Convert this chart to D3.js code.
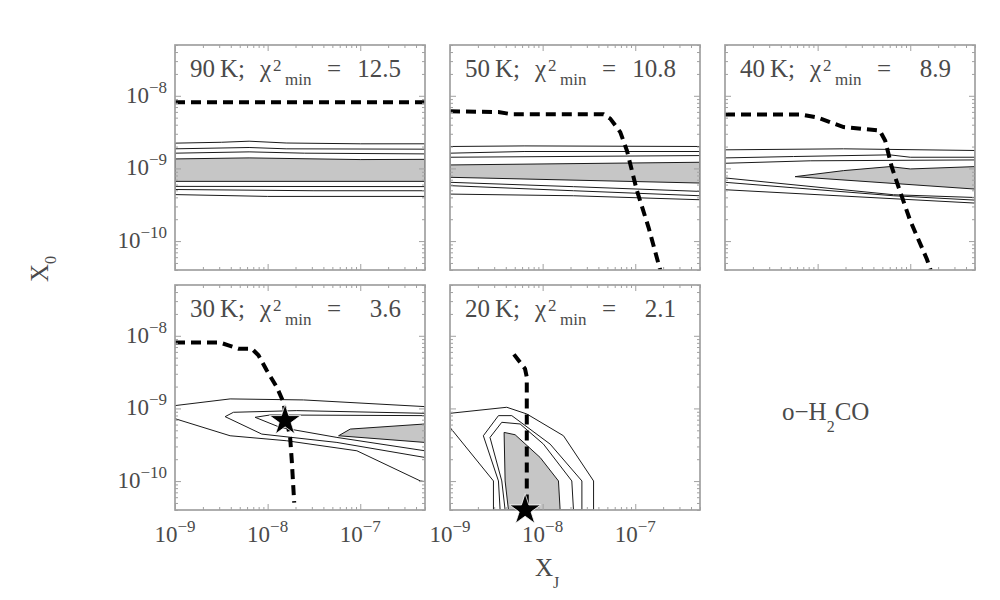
<!DOCTYPE html>
<html><head><meta charset="utf-8">
<script src="https://cdn.jsdelivr.net/npm/d3@7"></script>
<style>body{margin:0;background:#fff}</style>
</head><body>
<svg id="c" width="1000" height="600"></svg>
<script>
// ---------------- data ----------------
const temps = [90, 50, 40, 30, 20];
const chi2min = ["12.5", "10.8", "8.9", "3.6", "2.1"];
const xTickExps = [-9, -8, -7];
const yTickExps = [-10, -9, -8];
const xDomain = [1e-9, 5e-7];
const yDomain = [4e-11, 5e-8];

// points are [log10 X_J, log10 X_0]
const dash90 = [[-9,-8.09],[-6.301,-8.09]];
const dash50 = [[-9,-8.214],[-8.478,-8.224],[-8.333,-8.255],[-7.343,-8.255],[-7.270,-8.315],[-7.162,-8.500],[-7.090,-8.753],[-6.982,-9.306],[-6.856,-9.814],[-6.730,-10.40]];
const dash40 = [[-9,-8.256],[-8.19,-8.256],[-8.0,-8.30],[-7.72,-8.43],[-7.33,-8.477],[-7.27,-8.62],[-7.2,-8.98],[-7.12,-9.28],[-7.0,-9.72],[-6.82,-10.25],[-6.78,-10.40]];
const dash30 = [[-9,-8.094],[-8.513,-8.094],[-8.423,-8.131],[-8.315,-8.177],[-8.171,-8.177],[-8.099,-8.269],[-8.009,-8.477],[-7.901,-8.707],[-7.829,-8.915],[-7.811,-9.053],[-7.757,-9.399],[-7.739,-9.722],[-7.713,-10.298]];
const dash20 = [[-8.31,-8.256],[-8.19,-8.454],[-8.171,-8.57],[-8.171,-10.40]];

const cont90 = [
 [[-9,-8.652],[-8.5,-8.640],[-8.2,-8.625],[-7.8,-8.650],[-7.0,-8.661],[-6.301,-8.661],[-6.301,-9.385],[-8.0,-9.385],[-9,-9.36]],
 [[-9,-8.730],[-8.2,-8.712],[-7.8,-8.730],[-6.301,-8.735],[-6.301,-9.307],[-7.5,-9.307],[-9,-9.29]],
 [[-9,-8.790],[-8.2,-8.772],[-7.6,-8.790],[-6.301,-8.800],[-6.301,-9.250],[-9,-9.247]]
];
const fill90 = [[-9,-8.869],[-8.2,-8.855],[-7.0,-8.878],[-6.301,-8.875],[-6.301,-9.178],[-9,-9.178]];

const cont50 = [
 [[-9,-8.698],[-8.2,-8.690],[-6.301,-8.698],[-6.301,-9.431],[-7.667,-9.376],[-9,-9.353]],
 [[-9,-8.790],[-8.2,-8.767],[-6.301,-8.767],[-6.301,-9.376],[-7.667,-9.307],[-9,-9.237]],
 [[-9,-8.846],[-6.301,-8.823],[-6.301,-9.316],[-7.667,-9.251],[-9,-9.191]]
];
const fill50 = [[-9,-8.952],[-6.301,-8.915],[-6.301,-9.201],[-9,-9.122]];

const cont40 = [
 [[-9,-8.744],[-7.72,-8.730],[-6.301,-8.753],[-6.301,-9.477],[-9,-9.293]],
 [[-9,-8.855],[-8.26,-8.836],[-7.22,-8.813],[-7.0,-8.846],[-6.301,-8.846],[-6.301,-9.436],[-7.18,-9.376],[-9,-9.191]],
 [[-9,-8.929],[-8.08,-8.895],[-6.301,-8.883],[-6.301,-9.40],[-7.18,-9.362],[-9,-9.131]]
];
const fill40 = [[-8.243,-9.113],[-7.72,-9.030],[-7.22,-8.975],[-7.0,-9.007],[-6.301,-8.975],[-6.301,-9.284]];

const cont30 = [
 [[-9,-8.961],[-8.405,-8.869],[-7.613,-8.883],[-6.301,-8.975],[-6.301,-10.007],[-6.351,-9.998],[-7.036,-9.583],[-7.793,-9.445],[-8.405,-9.376],[-9,-9.141]],
 [[-8.459,-9.113],[-8.369,-9.053],[-7.685,-9.030],[-6.301,-9.067],[-6.301,-9.675],[-7.252,-9.468],[-8.063,-9.353]],
 [[-8.135,-9.122],[-7.973,-9.090],[-6.301,-9.099],[-6.301,-9.583],[-7.252,-9.399],[-7.865,-9.261]]
];
const fill30 = [[-7.234,-9.376],[-7.108,-9.284],[-6.301,-9.214],[-6.301,-9.468]];

const cont20 = [
 [[-8.531,-10.398],[-8.531,-9.998],[-9,-9.261],[-9,-9.067],[-8.387,-8.984],[-8.171,-9.076],[-7.775,-9.376],[-7.450,-9.998],[-7.450,-10.398]],
 [[-8.459,-10.398],[-8.477,-9.998],[-8.640,-9.376],[-8.477,-9.099],[-8.333,-9.099],[-7.919,-9.491],[-7.576,-9.998],[-7.576,-10.398]],
 [[-8.405,-10.398],[-8.441,-9.998],[-8.568,-9.399],[-8.441,-9.191],[-8.243,-9.214],[-7.991,-9.491],[-7.685,-9.998],[-7.667,-10.398]]
];
const fill20 = [[-8.369,-10.398],[-8.405,-9.998],[-8.416,-9.330],[-8.297,-9.362],[-8.027,-9.675],[-7.829,-9.998],[-7.811,-10.398]];

const star30 = [-7.811, -9.168];
const star20 = [-8.189, -10.398];

// ---------------- drawing ----------------
const FONT = "'Liberation Serif', 'DejaVu Serif', serif";
const TXT = "#4a4a4a";
const FRAME = "#a0a0a0";
const W = 250, H = 225;
const colX = [175, 450, 725], rowY = [45, 285];

const svg = d3.select("#c");
svg.append("defs").append("clipPath").attr("id","clip")
  .append("rect").attr("width",W).attr("height",H);

const x = d3.scaleLog().domain(xDomain).range([0, W]);
const y = d3.scaleLog().domain(yDomain).range([H, 0]);
const line = d3.line().x(d => x(Math.pow(10, d[0]))).y(d => y(Math.pow(10, d[1])));
const ring = d3.line().x(d => x(Math.pow(10, d[0]))).y(d => y(Math.pow(10, d[1]))).curve(d3.curveLinearClosed);

function tickVals(domain) {
  const maj = [], min = [];
  const e0 = Math.floor(Math.log10(domain[0])), e1 = Math.ceil(Math.log10(domain[1]));
  for (let e = e0; e <= e1; e++) for (let m = 1; m <= 9; m++) {
    const v = m * Math.pow(10, e);
    if (v < domain[0] * 0.9999 || v > domain[1] * 1.0001) continue;
    (m === 1 ? maj : min).push(v);
  }
  return {maj, min};
}
const xt = tickVals(xDomain), yt = tickVals(yDomain);

const panels = [
  {i:0, col:0, row:0, fill:fill90, lines:cont90, dash:dash90, star:null},
  {i:1, col:1, row:0, fill:fill50, lines:cont50, dash:dash50, star:null},
  {i:2, col:2, row:0, fill:fill40, lines:cont40, dash:dash40, star:null},
  {i:3, col:0, row:1, fill:fill30, lines:cont30, dash:dash30, star:star30},
  {i:4, col:1, row:1, fill:fill20, lines:cont20, dash:dash20, star:star20}
];

function addTicks(g, vals, len) {
  const st = s => s.call(a => a.select(".domain").remove()).attr("color", FRAME);
  g.append("g").attr("transform",`translate(0,${H})`)
    .call(d3.axisBottom(x).tickValues(vals.x).tickSize(-len).tickSizeOuter(0).tickFormat("")).call(st);
  g.append("g")
    .call(d3.axisTop(x).tickValues(vals.x).tickSize(-len).tickSizeOuter(0).tickFormat("")).call(st);
  g.append("g")
    .call(d3.axisLeft(y).tickValues(vals.y).tickSize(-len).tickSizeOuter(0).tickFormat("")).call(st);
  g.append("g").attr("transform",`translate(${W},0)`)
    .call(d3.axisRight(y).tickValues(vals.y).tickSize(-len).tickSizeOuter(0).tickFormat("")).call(st);
}

panels.forEach(p => {
  const g = svg.append("g").attr("transform",`translate(${colX[p.col]},${rowY[p.row]})`);
  const inner = g.append("g").attr("clip-path","url(#clip)");
  inner.append("path").attr("d", ring(p.fill))
    .attr("fill","#c6c6c6").attr("stroke","#1a1a1a").attr("stroke-width",1);
  p.lines.forEach(r => inner.append("path").attr("d", ring(r))
    .attr("fill","none").attr("stroke","#1a1a1a").attr("stroke-width",1));
  inner.append("path").attr("d", line(p.dash))
    .attr("fill","none").attr("stroke","#000").attr("stroke-width",4)
    .attr("stroke-dasharray","10,6");

  addTicks(g, {x: xt.min, y: yt.min}, 3);
  addTicks(g, {x: xt.maj, y: yt.maj}, 6);
  g.append("rect").attr("width",W).attr("height",H)
    .attr("fill","none").attr("stroke",FRAME).attr("stroke-width",1.7);

  if (p.star) {
    g.append("path")
      .attr("d", d3.symbol().type(d3.symbolStar).size(300)())
      .attr("transform",`translate(${x(Math.pow(10,p.star[0]))},${y(Math.pow(10,p.star[1]))})`)
      .attr("fill","#000").attr("stroke","#fff").attr("stroke-width",0.8);
  }

  // title
  const t = g.append("g").attr("font-family",FONT).attr("fill",TXT);
  t.append("text").attr("x",15).attr("y",32).attr("font-size",25).text(String(temps[p.i]));
  t.append("text").attr("x",45).attr("y",32).attr("font-size",25).text("K;");
  t.append("text").attr("x",85).attr("y",32).attr("font-size",25).text("χ");
  t.append("text").attr("x",98).attr("y",26).attr("font-size",17).text("2");
  t.append("text").attr("x",110).attr("y",40).attr("font-size",17).text("min");
  t.append("text").attr("x",152).attr("y",32).attr("font-size",25).text("=");
  t.append("text").attr("x",226).attr("y",32).attr("font-size",25).attr("text-anchor","end").text(chi2min[p.i]);

  // tick labels
  if (p.col === 0) {
    yTickExps.forEach(e => {
      const tx = g.append("text").attr("font-family",FONT).attr("fill",TXT)
        .attr("text-anchor","end").attr("x",-8).attr("y", y(Math.pow(10,e)) + 7).attr("font-size",23);
      tx.append("tspan").text("10");
      tx.append("tspan").attr("font-size",17).attr("dy",-10).text("\u2212" + Math.abs(e));
    });
  }
  if (p.row === 1) {
    xTickExps.forEach(e => {
      const tx = g.append("text").attr("font-family",FONT).attr("fill",TXT)
        .attr("text-anchor","middle").attr("x", x(Math.pow(10,e))).attr("y", H + 32).attr("font-size",23);
      tx.append("tspan").text("10");
      tx.append("tspan").attr("font-size",17).attr("dy",-10).text("\u2212" + Math.abs(e));
    });
  }
});

// axis titles
const xl = svg.append("text").attr("font-family",FONT).attr("fill",TXT).attr("x",535).attr("y",576).attr("font-size",25);
xl.append("tspan").text("X");
xl.append("tspan").attr("font-size",16).attr("dy",12).text("J");

const yl = svg.append("text").attr("font-family",FONT).attr("fill",TXT)
  .attr("transform","translate(48,282) rotate(-90)").attr("font-size",25);
yl.append("tspan").text("X");
yl.append("tspan").attr("font-size",16).attr("dy",8).text("0");

const mol = svg.append("text").attr("font-family",FONT).attr("fill",TXT).attr("x",782).attr("y",420).attr("font-size",25);
mol.append("tspan").text("o\u2212H");
mol.append("tspan").attr("font-size",16).attr("dy",12).text("2");
mol.append("tspan").attr("dy",-12).text("CO");
</script>
</body></html>
